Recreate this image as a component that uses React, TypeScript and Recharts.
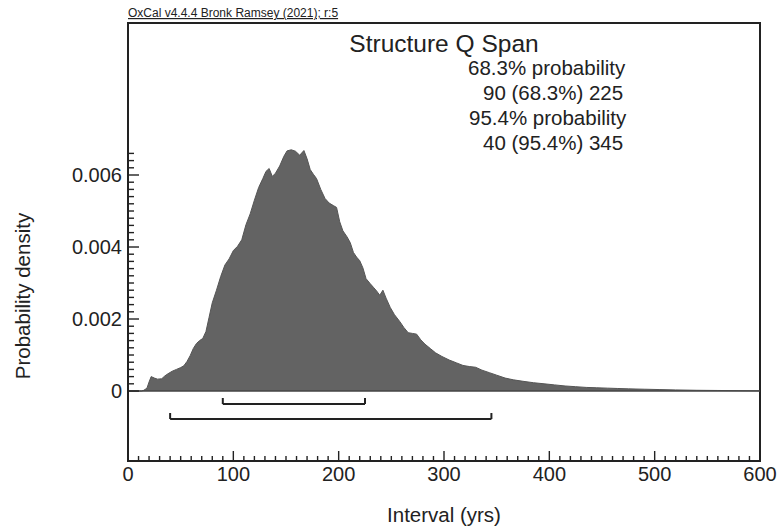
import { ComposedChart, Area, XAxis, YAxis, ReferenceLine, ReferenceArea } from 'recharts';

// posterior density of the span
const years = [
  0, 10, 13, 15, 18, 20, 22, 25, 28, 32, 35, 38, 42, 46, 50, 53, 56, 59, 62, 65,
  68, 71, 74, 77, 80, 84, 88, 92, 96, 100, 104, 108, 112, 116, 120, 124, 128, 131, 134, 137,
  140, 144, 148, 151, 155, 159, 163, 167, 170, 173, 176, 179, 183, 187, 191, 195, 198, 201, 204, 208,
  211, 214, 217, 220, 223, 226, 230, 233, 236, 239, 242, 245, 249, 253, 258, 262, 266, 270, 274, 278,
  282, 287, 292, 298, 305, 312, 318, 324, 330, 336, 343, 350, 358, 366, 375, 385, 395, 405, 415, 425,
  435, 445, 455, 465, 475, 490, 505, 520, 540, 560, 580, 600,
];
const density = [
  0, 0, 0, 0.00002, 0.00008, 0.00025, 0.0004, 0.00036, 0.00033, 0.00034, 0.00042, 0.00048, 0.00055, 0.0006, 0.00065, 0.0007, 0.00082, 0.00098, 0.00118, 0.00132,
  0.0014, 0.00146, 0.00165, 0.00205, 0.00245, 0.0028, 0.00318, 0.0035, 0.00367, 0.0039, 0.00402, 0.0042, 0.00462, 0.00492, 0.0053, 0.00565, 0.0059, 0.0061, 0.00618, 0.00596,
  0.00605, 0.00625, 0.00652, 0.00667, 0.0067, 0.00666, 0.00655, 0.00668, 0.00645, 0.00615, 0.00602, 0.0059, 0.0056, 0.00535, 0.00522, 0.00515, 0.0051, 0.0047, 0.00445, 0.00428,
  0.00412, 0.00385, 0.00372, 0.00362, 0.00342, 0.00312, 0.00298, 0.00288, 0.00278, 0.00266, 0.0028, 0.00258, 0.00232, 0.00212, 0.00193, 0.00176, 0.00162, 0.0016, 0.00158, 0.00142,
  0.0013, 0.00118, 0.00106, 0.00096, 0.00086, 0.00078, 0.00071, 0.00068, 0.00066, 0.00058, 0.00051, 0.00044, 0.00036, 0.00031, 0.00027, 0.00023, 0.0002, 0.00017, 0.00014, 0.00012,
  0.0001, 0.00009, 0.00008, 0.00007, 0.00006, 0.00005, 0.00004, 0.00003, 0.00002, 0.000015, 0.00001, 0.000005,
];

const range68 = [90, 225];
const range95 = [40, 345];

const xMajorTicks = [0, 100, 200, 300, 400, 500, 600];
const yMajorTicks = [0, 0.002, 0.004, 0.006];
const yTickLabels = ['0', '0.002', '0.004', '0.006'];

const title = 'Structure Q Span';
const summaryLines = ['68.3% probability', '90 (68.3%) 225', '95.4% probability', '40 (95.4%) 345'];

const data = years.map((y, i) => ({ year: y, density: density[i] }));

const xTicks = Array.from({ length: 61 }, (_, i) => i * 10);
const yTicks = Array.from({ length: 34 }, (_, i) => Math.round(i * 2) / 10000);

const Y_MIN = -0.001944;
const Y_MAX = 0.010222;
const PLOT_H = 438;
const perPx = (Y_MAX - Y_MIN) / PLOT_H;

const FONT = '"Liberation Sans", Arial, sans-serif';
const INK = '#222';

const XTick = (props: any) => {
  const { x, y, payload } = props;
  const v = payload.value;
  const major = xMajorTicks.includes(v);
  return (
    <g>
      <line x1={x} x2={x} y1={y} y2={y - (major ? 10 : 5)} stroke={INK} strokeWidth={1.4} />
      {major && (
        <text x={x} y={y + 20} textAnchor="middle" fontSize={20} fontFamily={FONT} fill={INK}>
          {v}
        </text>
      )}
    </g>
  );
};

const YTick = (props: any) => {
  const { x, y, payload } = props;
  const v = payload.value;
  const idx = yMajorTicks.findIndex((m) => Math.abs(m - v) < 1e-9);
  const major = idx >= 0;
  return (
    <g>
      <line x1={x} x2={x + (major ? 11 : 6)} y1={y} y2={y} stroke={INK} strokeWidth={1.4} />
      {major && (
        <text x={x - 6} y={y + 7} textAnchor="end" fontSize={20} fontFamily={FONT} fill={INK}>
          {yTickLabels[idx]}
        </text>
      )}
    </g>
  );
};

function bracket(r: number[], level: number, key: string) {
  const cap = level + 6 * perPx;
  return [
    <ReferenceLine key={key + 'h'} segment={[{ x: r[0], y: level }, { x: r[1], y: level }]} stroke={INK} strokeWidth={2} ifOverflow="visible" />,
    <ReferenceLine key={key + 'a'} segment={[{ x: r[0], y: level }, { x: r[0], y: cap }]} stroke={INK} strokeWidth={2} ifOverflow="visible" />,
    <ReferenceLine key={key + 'b'} segment={[{ x: r[1], y: level }, { x: r[1], y: cap }]} stroke={INK} strokeWidth={2} ifOverflow="visible" />,
  ];
}

export default function App() {
  return (
    <div style={{ position: 'absolute', left: 0, top: 0, width: 777, height: 527, background: '#fff' }}>
      <ComposedChart width={777} height={527} data={data} margin={{ top: 23, right: 17, left: 68, bottom: 36 }}>
        <XAxis
          dataKey="year"
          type="number"
          domain={[0, 600]}
          ticks={xTicks}
          interval={0}
          tickSize={0}
          tickMargin={0}
          tickLine={false}
          tick={<XTick />}
          height={30}
          axisLine={{ stroke: INK, strokeWidth: 2 }}
        />
        <YAxis
          type="number"
          domain={[Y_MIN, Y_MAX]}
          allowDataOverflow
          ticks={yTicks}
          interval={0}
          tickSize={0}
          tickMargin={0}
          tickLine={false}
          tick={<YTick />}
          width={60}
          axisLine={{ stroke: INK, strokeWidth: 2 }}
        />
        <Area
          type="linear"
          dataKey="density"
          fill="#636363"
          fillOpacity={1}
          stroke="#555"
          strokeWidth={1}
          baseValue={0}
          isAnimationActive={false}
        />
        <ReferenceLine y={0} stroke="#444" strokeWidth={1.3} />
        {bracket(range68, -13 * perPx, 'r68')}
        {bracket(range95, -28 * perPx, 'r95')}
        <ReferenceArea x1={0} x2={600} y1={Y_MIN} y2={Y_MAX} fill="none" stroke={INK} strokeWidth={2} ifOverflow="visible" />
      </ComposedChart>
      <svg width={777} height={527} style={{ position: 'absolute', left: 0, top: 0, pointerEvents: 'none' }} fontFamily={FONT} fill={INK}>
        <text x={128} y={17} fontSize={12} textDecoration="underline">OxCal v4.4.4 Bronk Ramsey (2021); r:5</text>
        <text x={444} y={52} fontSize={24.5} textAnchor="middle">{title}</text>
        <text x={468} y={75} fontSize={20.5}>{summaryLines[0]}</text>
        <text x={483} y={100} fontSize={20.5}>{summaryLines[1]}</text>
        <text x={469} y={125} fontSize={20.5}>{summaryLines[2]}</text>
        <text x={483} y={150} fontSize={20.5}>{summaryLines[3]}</text>
        <text x={444} y={522} fontSize={20.5} textAnchor="middle">Interval (yrs)</text>
        <text transform="translate(30 296) rotate(-90)" fontSize={20.5} textAnchor="middle">Probability density</text>
      </svg>
    </div>
  );
}
